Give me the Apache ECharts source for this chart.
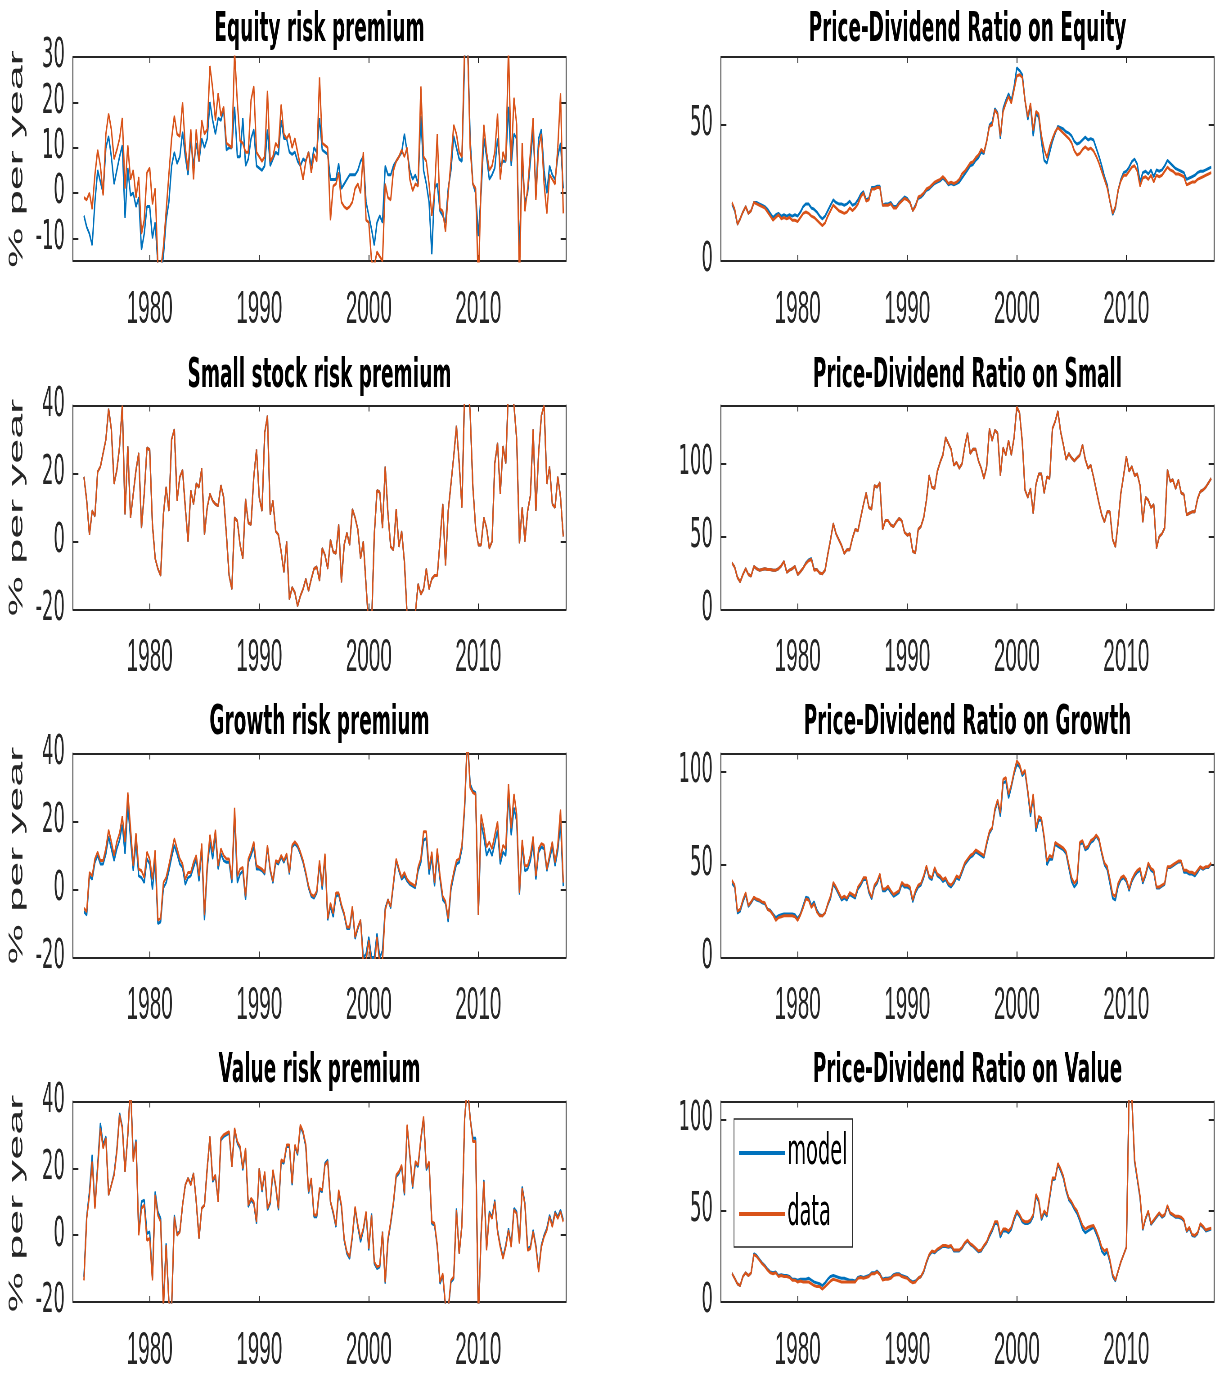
<!DOCTYPE html>
<html>
<head>
<meta charset="utf-8">
<title>Risk premia and price-dividend ratios</title>
<script src="https://cdn.jsdelivr.net/npm/echarts@6/dist/echarts.min.js"></script>
<style>
  html, body { margin: 0; padding: 0; background: #fff; overflow: hidden; }
  /* the original figure is squeezed sideways, so draw wide and scale down */
  #figure { width: 2700px; height: 1374px; transform: scaleX(0.45); transform-origin: 0 0; }
</style>
</head>
<body>
<div id="figure"></div>
<script>
// ------------------------------
// Data: quarterly, 1974Q1 - 2017Q4
// ------------------------------

var firstYear = 1974;
var lastYear = 2017;
var yearTicks = [1980, 1990, 2000, 2010];

var equityRpModel = [
    -5, -7.5, -9, -11.5, -2, 5, 2.5, 0, 10, 12.5, 8, 2, 5, 8, 10.5, -5.5, 5.5, -0.5, 0, -3,
    -1, -12.5, -9, -3, -3, -10, -6.5, -16, -18, -14, -6, -2, 6, 9, 6.5, 8, 13.5, 8, 4, 12,
    6, 11, 7, 12, 10, 12, 20, 16, 13, 16.5, 16, 18.5, 9.5, 10, 10, 19, 8, 8, 16.5, 6,
    7.5, 12, 14, 6, 5.5, 5, 6, 14, 6, 7.5, 9, 8.5, 16, 12, 12, 9, 8.5, 9, 7, 6,
    7.5, 7, 9, 6, 10, 9, 16.5, 9.5, 9, 8.5, 3, 3, 3, 6.5, 1, 2, 3, 4, 4, 4,
    5, 7, 8, -2, -5, -8, -11.5, -6.5, -5, -6.5, 6, 4, 4, 6, 7, 8, 9, 13, 9, 5,
    3, 4, 2, 17, 5, 2, -2, -13.5, 1, 2, -4, -5, -6.5, 1, 5, 12.5, 10, 7.5, 7, 30,
    35, 12, 2, 0, -9.5, 0, 12, 8, 3, 4, 5.5, 12, 6, 7, 7, 19, 6, 13, 12, -13,
    7, -2, 0, 7, 14, 0, 12, 14, 5, 0, 6, 4, 3, 8, 11, 1
];
var equityRpData = [
    -1, -1.5, 0, -3.5, 4, 9.5, 6, -0.5, 13, 17.5, 14, 7.5, 9.5, 12, 16.5, 1, 10.5, 3, 5, -1,
    3.5, -9, -6, 4.5, 5.5, -2.5, 1, -16, -17, -12, -4, 4, 12, 17, 13, 12.5, 20, 10, 5, 14,
    3, 14, 7, 16, 13, 14, 28, 23, 16, 22, 17, 19, 11, 10.5, 10, 31, 20, 11.5, 11, 9,
    9, 20.5, 23.5, 9, 8, 7, 8, 22.5, 7, 8, 11, 10, 19.5, 13, 12, 13, 10, 12, 9, 6,
    3, 7, 9, 4.5, 8.5, 7, 25.5, 11, 10.5, 10, -6, 1.5, 2, 4.5, -2, -3, -3.5, -3, -2, 1,
    2, 0, 9, -6, -6.5, -15, -16, -13, -14, -15, 2, -1, -1.5, 5, 7, 8, 9.5, 8, 10, 3,
    0.5, 2, 1.5, 23.5, 8, 7, 2, -5, 0, 13, -3.5, -4, -8.5, 0, 7, 15, 13, 9, 8, 33,
    35, 10, 2, 1, -20, 2, 15, 9, 5, 6, 9, 17.5, 3, 9, 7, 32, 7, 21, 15, -20,
    11, -4, 1, 9, 16.5, -1.5, 10, 13, 2, -4.5, 4, 3, 2, 10, 22, -4.5
];

var equityPdModel = [
    21, 18.5, 13.5, 15.5, 18, 20, 17.5, 18.5, 21.5, 21.5, 21, 20.5, 20, 19, 17.5, 16, 17, 17.5, 16.5, 17,
    16.5, 17, 16.5, 17, 16.5, 18, 20, 21, 21, 19.5, 19, 18, 16.5, 15.5, 16.5, 18.5, 20.5, 22.5, 21.5, 21,
    21, 20.5, 21, 22, 20.5, 21, 22.5, 24.5, 25.5, 22.5, 23, 27, 27, 27.5, 27.5, 20.5, 21, 21, 21.5, 20,
    20, 21.5, 22.5, 23.5, 23, 21.5, 18.5, 20.5, 23, 23.5, 24.5, 26, 26.5, 27.5, 28.5, 29, 29.5, 30.5, 29.5, 28,
    28.5, 28, 28.5, 29, 30.5, 32, 33.5, 35, 35.5, 37, 38, 40, 39.5, 44, 50, 51, 56, 54.5, 45, 56,
    59, 61.5, 59, 64, 71, 70, 68.5, 59, 52, 57, 46, 54, 53, 44, 37, 36, 40, 44, 47, 49.5,
    49, 48.5, 47.5, 47, 46, 44, 43, 43.5, 44.5, 45.5, 44.5, 45, 44.5, 41.5, 38.5, 35, 31, 28, 22, 17,
    19.5, 26, 30, 32.5, 33, 34.5, 36.5, 37.5, 35.5, 29, 32.5, 33, 32, 33.5, 31, 33.5, 33, 33.5, 35, 37,
    36, 35, 34, 33.5, 33, 32.5, 30, 30.5, 31, 31.5, 32.5, 33, 33, 33.5, 34, 34.5
];
var equityPdData = [
    21.5, 19, 13.5, 15.5, 18, 20, 17.5, 18.5, 21.5, 21, 20.5, 20, 19.5, 18, 16.5, 15, 16, 17, 15.5, 16,
    15.5, 16, 15, 15, 14.5, 16, 17.5, 18, 17.5, 16.5, 16, 15, 14, 13, 14, 16.5, 18.5, 20.5, 19.5, 18.5,
    18, 17.5, 18, 19.5, 18.5, 19.5, 21, 23.5, 25, 22, 22.5, 26.5, 26.5, 27, 27, 20.5, 20.5, 20.5, 21, 19.5,
    19.5, 21, 22, 23, 22.5, 21.5, 18.5, 20, 23.5, 24, 25, 26.5, 27, 28, 29, 29.5, 30, 31, 30, 28.5,
    29, 28.5, 29, 30, 32, 33, 34.5, 36, 36.5, 38, 39, 41, 40, 44, 49.5, 50, 55.5, 54, 46, 55,
    58, 60.5, 58, 63, 68, 68.5, 67.5, 59, 53, 58, 48, 55, 54, 46, 41, 38, 42, 45, 47.5, 49,
    48, 47, 46, 45, 43.5, 40.5, 39, 39.5, 41, 42, 41, 41.5, 40.5, 38.5, 36, 33, 30, 27, 22, 17.5,
    20, 26, 29.5, 31.5, 31.5, 33, 34.5, 35, 33, 27.5, 30.5, 31, 30, 31.5, 29, 31.5, 31, 31.5, 33, 34.5,
    33.5, 33, 32, 32, 31.5, 31, 28, 28.5, 29, 29, 30, 30.5, 31, 31.5, 32, 32.5
];

var smallRpModel = [
    19, 12, 2, 9, 7.5, 20.5, 22, 26, 30, 39, 33, 17, 21, 28, 40, 8, 28, 7, 14, 21,
    26, 4, 14, 27.5, 27, 5, -5, -8, -10, 8, 16, 9, 30, 33, 12, 19, 21, 10, 0, 15,
    11, 17, 16, 21.5, 2, 10, 14, 12, 11, 10.5, 16.5, 13, 2, -10, -14, 7, 6, -1, -5, 12.5,
    5.5, 5, 19, 27, 13, 9, 32, 37, 8, 12, 3, 2, -3, -9, 0, -17, -13.5, -15, -19, -16,
    -14, -11, -14.5, -11, -8, -7.5, -11.5, -2, -4, -8, 0.5, -3, -3.5, 5, -12, -1, 2.5, -1, 9.5, 7,
    3.5, -5, 0, -13, -25, -25, 2, 15, 14.5, 4, 22, 8, -1.5, -2.5, 9.5, -1.5, 3, -6, -22, -25,
    -25, -21, -12.5, -15.5, -14, -8, -14, -11, -10, -10, 0, 11, -7, 9, 17, 25, 34, 23, 10, 45,
    48, 38, 16, 4, -1, -1, 7, 4, -2, 0, 23, 29, 14, 28, 23, 45, 45, 40, 30, -0.5,
    10, 0, 9, 13.5, 33, 9, 26, 37, 40, 17, 22, 11, 10, 19, 13, 1.5
];
var smallRpData = [
    19, 12, 2, 9, 7.5, 20.5, 22, 26, 30, 39, 33, 17, 21, 28, 40, 8, 28, 7, 14, 21,
    26, 4, 14, 27.5, 27, 5, -5, -8, -10, 8, 16, 9, 30, 33, 12, 19, 21, 10, 0, 15,
    11, 17, 16, 21.5, 2, 10, 14, 12, 11, 10.5, 16.5, 13, 2, -10, -14, 7, 6, -1, -5, 12.5,
    5.5, 5, 19, 27, 13, 9, 32, 37, 8, 12, 3, 2, -3, -9, 0, -17, -13.5, -15, -19, -16,
    -14, -11, -14.5, -11, -8, -7.5, -11.5, -2, -4, -8, 0.5, -3, -3.5, 5, -12, -1, 2.5, -1, 9.5, 7,
    3.5, -5, 0, -13, -25, -25, 2, 15, 14.5, 4, 22, 8, -1.5, -2.5, 9.5, -1.5, 3, -6, -22, -25,
    -25, -21, -12.5, -15.5, -14, -8, -14, -11, -10, -10, 0, 11, -7, 9, 17, 25, 34, 23, 10, 45,
    48, 38, 16, 4, -1, -1, 7, 4, -2, 0, 23, 29, 14, 28, 23, 45, 45, 40, 30, -0.5,
    10, 0, 9, 13.5, 33, 9, 26, 37, 40, 17, 22, 11, 10, 19, 13, 1.5
];

var smallPdModel = [
    32, 29, 22, 19, 24, 28, 24, 23, 29.5, 28, 27, 27.5, 28, 27.5, 27.5, 27, 27, 28, 30, 33,
    25.5, 27, 28, 29.5, 24, 26, 28.5, 32, 34, 35, 27.5, 27.5, 25, 24.5, 27, 38, 48, 59, 52, 48,
    44, 38.5, 41, 41, 49, 55, 54, 63, 72, 80, 70, 69, 85, 84, 87, 55, 61, 61, 58, 57,
    60, 62.5, 61, 53, 51, 52, 40, 39, 55, 57, 63, 75, 92, 84, 83, 95, 101, 106, 118, 114,
    110, 99, 101, 97, 100, 112, 121, 107, 110, 110, 102, 97, 90, 98, 124, 116, 123, 121, 92, 111,
    106, 116, 106, 118, 139, 135, 115, 82, 77, 83, 66, 86, 93, 93, 80, 91, 90, 124, 129, 136,
    122, 113, 103, 107, 104, 102, 104, 106, 113, 103, 97, 99, 91, 82, 73, 65, 60, 67, 67, 48,
    43, 60, 80, 92, 105, 95, 98, 92, 93, 85, 60, 77, 75, 70, 72, 42, 50, 52, 56, 96,
    88, 89, 83, 89, 80, 79, 65, 66, 67, 67, 76, 81, 82, 84, 87, 90
];
var smallPdData = [
    32, 29, 22, 19, 24, 28, 24, 23, 29.5, 28, 27, 27.5, 28, 27.5, 27.5, 27, 27, 28, 30, 33,
    25.5, 27, 28, 29.5, 24, 26, 28.5, 31.5, 33.5, 34.5, 27, 27.5, 25, 24.5, 27, 38, 48, 59, 52, 48,
    44, 38.5, 41, 41, 49, 55, 54, 63, 72, 80, 70, 69, 85, 84, 87, 55, 61, 61, 58, 57,
    60, 62.5, 61, 53, 51, 52, 40, 39, 55, 57, 63, 75, 92, 84, 83, 95, 101, 106, 118, 114,
    110, 99, 101, 97, 100, 112, 121, 107, 110, 110, 102, 97, 90, 98, 124, 116, 123, 121, 92, 111,
    106, 116, 106, 118, 139, 135, 115, 82, 77, 83, 66, 86, 93, 93, 80, 91, 90, 124, 129, 136,
    122, 113, 103, 107, 104, 102, 104, 106, 113, 103, 97, 99, 91, 82, 73, 65, 60, 67, 67, 48,
    43, 60, 80, 92, 105, 95, 98, 92, 93, 85, 60, 77, 75, 70, 72, 42, 50, 52, 56, 96,
    88, 89, 83, 89, 80, 79, 65, 66, 67, 67, 76, 81, 82, 84, 87, 90
];

var growthRpModel = [
    -6.5, -7.5, 4, 3, 8, 10, 7.5, 7.5, 10.5, 15.5, 12, 8.5, 12, 14.5, 19, 10.5, 25, 15, 5.5, 14,
    4, 3.5, 2, 9, 7.5, 0, 9, -10, -9.5, 0.5, 2, 5.5, 9.5, 13, 10.5, 7.5, 6.5, 1.5, 3.5, 4,
    6.5, 9, 2.5, 12, -9, 6, 14, 9, 16, 6, 10.5, 8.5, 8, 8, 2, 22, 2, 4.5, 5.5, -3,
    8, 10, 12.5, 6, 6, 5.5, 4.5, 12.5, 5.5, 2, 8, 7.5, 9.5, 8, 10, 4.5, 12.5, 13.5, 12.5, 10.5,
    8, 4.5, 0.5, -2, -2.5, -1, 7.5, 0, 9.5, -9, -5, -8, -2, -1.5, -5, -7.5, -11.5, -11.5, -5.5, -14.5,
    -11.5, -9, -20, -19, -14, -20, -20, -13, -20, -18, -5.5, -3, -5.5, 1.5, 8.5, 5.5, 3, 4, 2.5, 1.5,
    1, 0.5, 5.5, 8, 14.5, 15, 4.5, 9.5, 1, 10.5, 3, -3, -4, -9.5, 0, 4, 7.5, 8, 12, 24,
    45, 31, 29, 28.5, -7.5, 19.5, 15.5, 10, 12, 10, 13.5, 17.5, 7.5, 11, 10, 28, 16, 24, 20, -1.5,
    13, 5.5, 6, 8.5, 13.5, 3, 11, 12.5, 12, 5.5, 9, 12.5, 7, 11.5, 19.5, 1
];
var growthRpData = [
    -5.5, -6.5, 5, 4, 9, 11, 8.5, 8.5, 12, 17.5, 14, 10, 14, 16.5, 21.5, 14, 28.5, 18, 7, 16.5,
    6, 5.5, 3.5, 11, 9, 3, 11.5, -9, -8.5, 2, 3.5, 7, 11, 15, 12, 9, 7.5, 3, 5, 5,
    8, 10, 4, 13.5, -7.5, 7, 16, 11, 17.5, 7, 12, 10, 9, 9, 3, 24, 4, 6, 6.5, -2,
    9, 11, 14, 7, 6.5, 6, 5, 13, 6, 2.5, 8.5, 8, 10, 8.5, 10.5, 5, 13, 14, 13, 11,
    8.5, 5, 1, -1.5, -2, -0.5, 8.5, 1, 10.5, -8.5, -4, -7, -1, -1, -4.5, -7, -11, -11, -5, -14,
    -11, -9, -22, -21, -15, -22, -23, -14, -22, -21, -6, -3, -5, 2, 9, 6, 3.5, 5, 3, 2,
    1.5, 1, 6.5, 9, 17, 17, 6, 11, 2, 12, 4, -2, -3.5, -8.5, 1, 5, 8.5, 9, 13, 25,
    45, 30, 28.5, 28, -7.5, 22, 18, 12.5, 14, 12, 16, 20, 9, 13, 12, 31, 18, 28, 22, -1,
    14.5, 7, 7, 10, 15.5, 4, 12, 13.5, 13, 6, 10, 14, 8, 13, 23.5, 2
];

var growthPdModel = [
    40, 38, 24, 25, 30, 34, 27.5, 29.5, 32, 31, 30.5, 29.5, 29, 26, 25.5, 23.5, 21.5, 22.5, 23, 23.5,
    23.5, 23.5, 23.5, 23, 21, 23.5, 28, 32.5, 32, 28, 30, 25.5, 23, 22.5, 24, 28.5, 32, 39.5, 37, 34,
    31, 32, 31, 34, 33, 32, 37, 39, 42, 42, 35, 31.5, 38, 40, 44, 36, 36, 37.5, 35, 33,
    34, 35, 39.5, 38, 38, 37, 30, 35, 38, 39, 43, 48.5, 43, 42, 47.5, 44, 43, 41, 42, 39,
    38, 40, 43, 42, 46, 50, 52, 54, 55, 57, 56, 55, 54, 61, 67, 69.5, 79, 84, 76, 94,
    95, 86, 92, 99, 104, 103, 98, 100, 89, 76, 87, 68, 74, 74, 64, 50, 53, 53, 61, 60,
    59, 58, 56, 48.5, 41, 38, 40, 61, 62, 58, 59, 62, 63, 65.5, 63, 56, 50, 47.5, 40, 32,
    31, 38.5, 42, 43, 41, 36, 41, 44, 46, 47, 40, 44, 50, 47, 46, 37.5, 37.5, 38.5, 39.5, 48.5,
    48.5, 49.5, 50.5, 51.5, 51.5, 46, 46, 45, 45, 44, 46, 48.5, 47.5, 48.5, 48.5, 50.5
];
var growthPdData = [
    41.5, 39, 25, 26, 31, 35, 28, 30, 32.5, 31.5, 31, 30, 29.5, 26, 25, 23, 20, 21.5, 22, 22.5,
    22.5, 22.5, 22.5, 22, 20, 23, 27, 31.5, 31, 27, 29, 24.5, 22.5, 22.5, 24, 29, 33, 40.5, 38, 35,
    32, 33, 32, 35, 34, 33, 38, 40, 43, 43, 36, 32.5, 39, 41, 45, 37, 37, 38.5, 36, 34,
    35, 36, 40.5, 39, 39, 38, 31, 36, 39, 40, 44, 49.5, 44, 43, 48.5, 45, 44, 42, 43, 40,
    39, 41, 44, 43, 47, 51, 53, 55, 56, 58, 57, 56, 55, 62, 68, 70, 80, 85, 78, 96,
    97, 88, 93, 100, 106, 104, 99, 101, 90, 78, 88, 70, 76, 75, 65, 52, 55, 54, 62, 61,
    60, 59, 57, 50, 43, 40, 42, 62, 63, 59, 60, 63, 64, 66, 64, 57, 51, 49, 42, 34,
    33, 40, 43, 44, 42, 37, 42, 45, 47, 48, 41, 45, 51, 48, 47, 38, 38, 39, 40, 49,
    49, 50, 51, 52, 52, 47, 47, 46, 46, 45, 47, 49, 48, 49, 49, 51
];

var valueRpModel = [
    -12.5, 5.5, 13, 24, 8.5, 21, 33.5, 27, 29.5, 12, 15, 18.5, 25.5, 36.5, 32.5, 19, 30, 45, 23, 28.5,
    0.5, 10, 10.5, 0.5, 1, -13, 13, 7, 5, -21, -2.5, -20, -22, 6, 0.5, 1, 9, 15, 17, 15.5,
    18.5, 10, -1, 8, 9, 20, 29.5, 16, 17.5, 10, 28.5, 29.5, 30, 30.5, 20.5, 31.5, 27.5, 26, 19.5, 25.5,
    8.5, 10.5, 9.5, 3.5, 20, 13, 18.5, 7.5, 9.5, 19, 14.5, 7.5, 22, 21.5, 26.5, 26.5, 15, 26.5, 24, 32.5,
    30.5, 26.5, 12.5, 16.5, 5.5, 5.5, 13.5, 13, 21.5, 22.5, 10, 6.5, 2.5, 13, 8.5, -1.5, -5.5, -7, -0.5, 8,
    2.5, -2, 1.5, 6.5, -4.5, 6.5, -8.5, -10, -9.5, 1, -14.5, -1.5, 3.5, 9.5, 17.5, 18.5, 20.5, 12, 32.5, 23.5,
    14, 21.5, 20.5, 28.5, 35, 19.5, 21.5, 3.5, 3, -3.5, -14.5, -12, -21.5, -22.5, -14, -13, 8, -5.5, 3, 35,
    45, 35, 29, 29, -25, 0.5, 16.5, -4, 7, 5.5, 10.5, 1.5, -3, -6.5, -3, 2, -3, 8, 7, -2,
    14.5, 9.5, -4, -3.5, 1.5, -3, -10.5, -3, 0, 2, 6, 3, 7, 5.5, 7.5, 4.5
];
var valueRpData = [
    -13.5, 5, 12, 22, 8, 20, 32, 26, 29, 12, 15, 18, 25, 36, 32, 19, 30, 45, 22, 28,
    0, 8, 9, -1.5, -1, -13.5, 12, 6, 4, -22, -3, -20, -22, 5.5, 0, 1, 9, 15, 17, 15,
    18.5, 10, -1, 8, 9, 20, 29.5, 16.5, 18, 10, 29, 30, 30.5, 31, 20.5, 32, 28, 26.5, 20, 26,
    9, 11, 10, 4, 20, 13.5, 19, 8, 10, 19.5, 15, 8, 22.5, 22, 27, 27, 15.5, 27, 24.5, 33,
    31, 27, 13, 17, 6, 6, 14, 13.5, 21, 22, 10, 7, 3, 13.5, 9, -1, -5, -6.5, 0, 8.5,
    3, -1, 2, 7, -4, 6, -8, -9.5, -9, 1, -14, -1, 4, 10, 18, 19, 21, 12.5, 33, 24,
    14.5, 22, 21, 29, 35.5, 20, 22, 4, 3.5, -3, -14, -11.5, -21, -22, -13.5, -12.5, 7.5, -5.5, 3, 35,
    45, 35, 28, 28, -25, 0, 16, -4.5, 6.5, 5, 10, 1, -3.5, -7, -3.5, 1.5, -3.5, 7.5, 6.5, -2.5,
    14, 9, -4.5, -4, 1, -3.5, -11, -3.5, -0.5, 1.5, 5.5, 2.5, 6.5, 5, 7, 4
];

var valuePdModel = [
    15.7, 13, 10, 9, 14, 16, 14.5, 16, 26.5, 25.5, 23.5, 21.5, 20, 18, 16.5, 16, 16.5, 14.5, 15, 14.5,
    14.5, 14, 12.5, 12.5, 12, 12.5, 12.5, 12.5, 13, 12, 11, 10.5, 10, 9, 10.5, 12.5, 14, 14.5, 14, 13.5,
    13, 13, 12.5, 12, 12, 11.5, 13.5, 14, 13.5, 14, 14.5, 16, 16, 17, 15.5, 12.5, 13, 13, 13.5, 15,
    15.5, 15.5, 14.5, 14, 13.5, 12, 11, 11.5, 13, 14, 16.5, 21.5, 25.5, 27.5, 27, 28.5, 29.5, 30.5, 30.5, 30,
    30.5, 28, 28, 28, 29.5, 32, 33.5, 31.5, 30.5, 29, 27.5, 28, 30.5, 32.5, 36, 39, 43, 43, 35.5, 39,
    39, 38, 40, 45, 49, 47, 44, 43, 43, 44, 47, 58, 55, 45, 49, 47, 57, 67, 67.5, 75.5,
    72, 68, 61, 56, 54, 51, 48.5, 44.5, 40, 38, 39, 40, 41, 37.5, 33.5, 28, 26, 27.5, 22, 14,
    11.5, 17, 22, 26, 30, 115, 112, 77, 67, 57, 39.5, 45.5, 49.5, 42.5, 44.5, 46.5, 48.5, 46.5, 47.5, 52.5,
    48.5, 47.5, 46.5, 46.5, 46, 44.5, 38.5, 40.5, 36.5, 36, 37.5, 42.5, 41, 39, 39.5, 40
];
var valuePdData = [
    15.7, 13, 10, 9, 14, 16, 14.5, 16, 26, 25, 23, 21, 19.5, 17.5, 16, 15.5, 16, 14, 14.5, 14,
    14, 13.5, 12, 12, 11, 11.5, 11, 11, 11, 10, 9, 8.5, 8.5, 7, 8.5, 10, 11.5, 12.5, 12, 11.5,
    11, 11, 11, 11, 11, 11, 13, 13.5, 13, 13.5, 14, 15.5, 15.5, 16.5, 15, 12, 12.5, 12.5, 13, 14.5,
    15, 15, 14, 13.5, 13, 11.5, 10.5, 11, 13, 14, 17, 22, 26, 28, 27.5, 29, 30, 31, 31, 30.5,
    31, 28.5, 28.5, 28.5, 30, 32.5, 34, 32, 31, 29.5, 28, 28.5, 31, 33, 37, 40, 44, 44, 37, 40,
    40, 39, 41, 46, 50, 48, 45, 44, 44, 45, 48, 59, 56, 46, 50, 48, 58, 68, 68, 76,
    73, 69, 62, 57, 55, 52, 50, 46, 42, 40, 41, 41.5, 42, 39, 35, 30, 28, 29, 23, 15,
    12, 17, 22, 26, 30, 115, 112, 78, 68, 58, 40, 46, 50, 43, 45, 47, 49, 47, 48, 53,
    49, 48, 47, 47, 46.5, 45, 39, 41, 37, 36.5, 38, 43, 41.5, 39.5, 40, 40.5
];


// ------------------------------
// Figure setup
// ------------------------------

var Figure = function () {

    var squeeze = 0.45;          // horizontal scale of the css transform
    var blue = '#0072BD';
    var orange = '#D95319';
    var axisColor = '#262626';
    var labelFont = '"Liberation Sans", Arial, sans-serif';
    var wideFont = '"DejaVu Sans", sans-serif';

    // plot boxes in screen pixels (before squeezing)
    var colLeft = [73, 721];
    var plotWidth = 493;
    var rowTop = [57, 405.5, 753.5, 1101.5];
    var plotHeight = 204;
    var titleMid = [30, 376.5, 723.5, 1071.5];

    var sx = function (v) { return v / squeeze; };

    var quarters = [];
    for (var y = firstYear; y <= lastYear; y++) {
        for (var q = 0; q < 4; q++) {
            quarters.push(y + q / 4);
        }
    }

    var pairs = function (values) {
        return values.map(function (v, i) { return [quarters[i], v]; });
    };

    var panels = [
        { title: 'Equity risk premium', model: equityRpModel, data: equityRpData, min: -15, max: 30, ticks: [-10, 0, 10, 20, 30], row: 0, col: 0 },
        { title: 'Price-Dividend Ratio on Equity', model: equityPdModel, data: equityPdData, min: 0, max: 75, ticks: [0, 50], row: 0, col: 1 },
        { title: 'Small stock risk premium', model: smallRpModel, data: smallRpData, min: -20, max: 40, ticks: [-20, 0, 20, 40], row: 1, col: 0 },
        { title: 'Price-Dividend Ratio on Small', model: smallPdModel, data: smallPdData, min: 0, max: 140, ticks: [0, 50, 100], row: 1, col: 1 },
        { title: 'Growth risk premium', model: growthRpModel, data: growthRpData, min: -20, max: 40, ticks: [-20, 0, 20, 40], row: 2, col: 0 },
        { title: 'Price-Dividend Ratio on Growth', model: growthPdModel, data: growthPdData, min: 0, max: 110, ticks: [0, 50, 100], row: 2, col: 1 },
        { title: 'Value risk premium', model: valueRpModel, data: valueRpData, min: -20, max: 40, ticks: [-20, 0, 20, 40], row: 3, col: 0 },
        { title: 'Price-Dividend Ratio on Value', model: valuePdModel, data: valuePdData, min: 0, max: 110, ticks: [0, 50, 100], row: 3, col: 1 }
    ];

    var _build = function () {
        var el = document.getElementById('figure');
        if (!el || typeof echarts == 'undefined') {
            return;
        }
        var chart = echarts.init(el);

        var grid = [], xAxis = [], yAxis = [], series = [], graphic = [];
        var line = { color: axisColor, width: 2 };

        panels.forEach(function (p, i) {
            grid.push({
                left: sx(colLeft[p.col]),
                top: rowTop[p.row],
                width: sx(plotWidth),
                height: plotHeight
            });

            // bottom and top x axes (box)
            ['bottom', 'top'].forEach(function (pos) {
                xAxis.push({
                    type: 'value', gridIndex: i, position: pos, min: 1973, max: 2018,
                    axisLine: { show: true, onZero: false, lineStyle: line },
                    axisTick: { show: true, inside: true, length: 6, customValues: yearTicks, lineStyle: line },
                    axisLabel: {
                        show: pos == 'bottom', customValues: yearTicks, margin: 26,
                        fontSize: 46, fontFamily: labelFont, color: axisColor,
                        formatter: function (v) { return String(v); }
                    },
                    splitLine: { show: false }
                });
            });

            // left and right y axes (box)
            ['left', 'right'].forEach(function (pos) {
                yAxis.push({
                    type: 'value', gridIndex: i, position: pos, min: p.min, max: p.max,
                    axisLine: { show: true, onZero: false, lineStyle: line },
                    axisTick: { show: true, inside: true, length: 12, customValues: p.ticks, lineStyle: line },
                    axisLabel: {
                        show: pos == 'left', customValues: p.ticks, margin: 18,
                        fontSize: 40, fontFamily: wideFont, color: axisColor
                    },
                    splitLine: { show: false }
                });
            });

            series.push({
                name: 'model', type: 'line', xAxisIndex: 2 * i, yAxisIndex: 2 * i,
                data: pairs(p.model), symbol: 'none', showSymbol: false, z: 2,
                lineStyle: { color: blue, width: 3 }, itemStyle: { color: blue }
            });
            series.push({
                name: 'data', type: 'line', xAxisIndex: 2 * i, yAxisIndex: 2 * i,
                data: pairs(p.data), symbol: 'none', showSymbol: false, z: 3,
                lineStyle: { color: orange, width: 3 }, itemStyle: { color: orange }
            });

            // panel title
            graphic.push({
                type: 'text',
                x: sx(colLeft[p.col] + plotWidth / 2),
                y: titleMid[p.row],
                style: {
                    text: p.title, font: 'bold 41px "DejaVu Sans", sans-serif', fill: '#000',
                    align: 'center', verticalAlign: 'middle', textAlign: 'center', textVerticalAlign: 'middle'
                }
            });

            // y label on the left column
            if (p.col == 0) {
                graphic.push({
                    type: 'text',
                    x: sx(17),
                    y: rowTop[p.row] + plotHeight / 2,
                    rotation: Math.PI / 2,
                    style: {
                        text: '% per year', font: '45px "Liberation Sans", Arial, sans-serif', fill: axisColor,
                        align: 'center', verticalAlign: 'middle', textAlign: 'center', textVerticalAlign: 'middle'
                    }
                });
            }
        });

        chart.setOption({
            animation: false,
            backgroundColor: '#fff',
            grid: grid,
            xAxis: xAxis,
            yAxis: yAxis,
            series: series,
            graphic: graphic,
            legend: {
                data: ['model', 'data'],
                orient: 'vertical',
                left: sx(734),
                top: 1119,
                padding: [11, sx(5), 10, sx(5)],
                icon: 'rect',
                itemWidth: sx(46),
                itemHeight: 4,
                itemGap: 15,
                selectedMode: false,
                borderColor: axisColor,
                borderWidth: 1.5,
                backgroundColor: '#fff',
                textStyle: { fontSize: 43, lineHeight: 46, fontFamily: wideFont, color: '#000' }
            }
        });
    };

    return {
        init: function () {
            _build();
        }
    };
}();

document.addEventListener('DOMContentLoaded', function () {
    Figure.init();
});
</script>
</body>
</html>
